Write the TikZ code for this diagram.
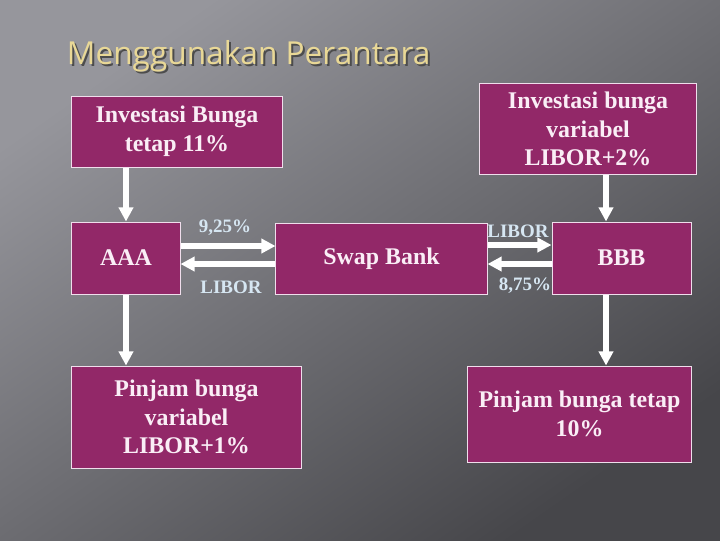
\documentclass[tikz,border=0pt]{standalone}
\usepackage{fontspec}
\setmainfont{Liberation Serif}
\newfontfamily\titlefont{Open Sans}
\usetikzlibrary{arrows.meta, positioning}

\definecolor{boxfill}{RGB}{146,40,104}
\definecolor{boxline}{RGB}{240,222,236}
\definecolor{boxtext}{RGB}{250,238,246}
\definecolor{ratetext}{RGB}{214,230,242}
\definecolor{titlegold}{RGB}{233,216,150}
\definecolor{bgtop}{RGB}{150,150,156}
\definecolor{bgbot}{RGB}{70,70,74}

\begin{document}
\begin{tikzpicture}[
        x=0.025cm, y=-0.025cm,
        party/.style={draw=boxline, line width=0.7pt, fill=boxfill,
                     text=boxtext, align=center, inner sep=0pt,
                     font=\fontsize{17}{20.5}\selectfont\bfseries},
        rate/.style={text=ratetext, inner sep=0pt,
                     font=\fontsize{13.5}{15}\selectfont\bfseries},
        arrow/.style={-{Triangle[length=10pt, width=10pt]}, line width=4pt, white}
    ]
        % background
        \useasboundingbox (0,0) rectangle (720,540);
        \shade[top color=bgtop, bottom color=bgbot, shading angle=35] (0,0) rectangle (720,540);

        \node[font=\titlefont\fontsize{22.5}{26}\selectfont, text=black!70, anchor=base west] (titleshade) at (64,66) {Menggunakan Perantara};
        \node[font=\titlefont\fontsize{22.5}{26}\selectfont, text=titlegold, anchor=base west] (title) at (62,64) {Menggunakan Perantara};

        \node[party, minimum width=5.25cm, minimum height=1.775cm] (inv1) at (177,131.5) {Investasi Bunga\\tetap 11\%};
        \node[party, minimum width=5.4cm, minimum height=2.25cm] (inv2) at (588,129) {Investasi bunga\\variabel\\LIBOR+2\%};
        \node[party, minimum width=2.7cm, minimum height=1.8cm] (aaa) at (126,258) {AAA};
        \node[party, minimum width=5.275cm, minimum height=1.775cm] (swap) at (381.5,258.5) {Swap Bank};
        \node[party, minimum width=3.475cm, minimum height=1.8cm] (bbb) at (621.5,258) {BBB};
        \node[party, minimum width=5.725cm, minimum height=2.55cm] (pin1) at (186.5,417) {Pinjam bunga\\variabel\\LIBOR+1\%};
        \node[party, minimum width=5.575cm, minimum height=2.4cm] (pin2) at (579.5,414) {Pinjam bunga tetap\\10\%};

        \node[rate] (r925) at (225,228) {9,25\%};
        \node[rate] (rlibl) at (231,287) {LIBOR};
        \node[rate] (rlibr) at (518,231) {LIBOR};
        \node[rate] (r875) at (525,286) {8,75\%};

        \draw[arrow] (aaa.north |- inv1.south) -- (aaa.north);
        \draw[arrow] (aaa.south) -- (aaa.south |- pin1.north);
        \draw[arrow] (606,0 |- inv2.south) -- (606,0 |- bbb.north);
        \draw[arrow] (606,0 |- bbb.south) -- (606,0 |- pin2.north);
        \draw[arrow] (aaa.east |- 0,246) -- (swap.west |- 0,246);
        \draw[arrow] (swap.west |- 0,264) -- (aaa.east |- 0,264);
        \draw[arrow] (swap.east |- 0,245) -- (bbb.west |- 0,245);
        \draw[arrow] (bbb.west |- 0,264) -- (swap.east |- 0,264);
    \end{tikzpicture}
\end{document}
